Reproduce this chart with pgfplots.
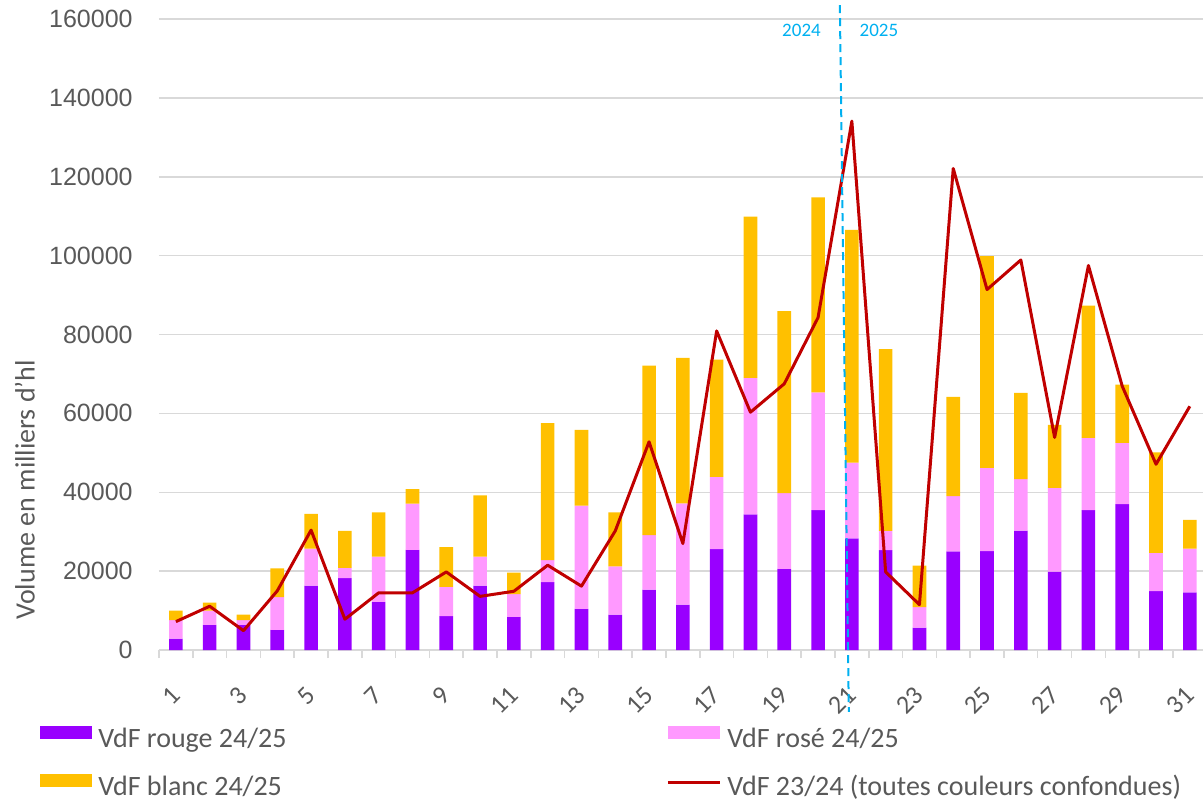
\documentclass[border=0pt]{standalone}
\usepackage{fontspec}
\setmainfont{Carlito}
\newfontfamily\arialfont{Liberation Sans}
\usepackage{pgfplots}
\usepackage{pgfplotstable}
\pgfplotsset{compat=1.18}

\definecolor{rouge}{HTML}{9900FF}
\definecolor{rose}{HTML}{FF99FF}
\definecolor{blanc}{HTML}{FFC000}
\definecolor{ligne}{HTML}{C00000}
\definecolor{grille}{HTML}{D9D9D9}
\definecolor{texte}{HTML}{595959}
\definecolor{annee}{HTML}{00B0F0}

\pgfplotsset{
    legbarre/.style={legend image code/.code={\fill[##1] (0pt,1pt) rectangle (26pt,7.5pt);}},
    legligne/.style={legend image code/.code={\draw[ligne, line width=1.5pt] (0pt,3pt) -- (26pt,3pt);}},
}

% jour, rouge, rosé, blanc (24/25, empilés) et total 23/24
\pgfplotstableread{
x rouge rose blanc total
1 2900 4700 2400 7200
2 6400 3600 2000 11100
3 6400 1200 1400 4900
4 5100 8300 7300 15000
5 16300 9400 8800 30400
6 18200 2600 9400 7800
7 12200 11500 11200 14500
8 25400 11700 3700 14500
9 8600 7400 10100 19800
10 16300 7400 15500 13600
11 8400 5800 5400 14900
12 17200 5600 34700 21500
13 10400 26200 19200 16200
14 9000 12200 13700 30200
15 15300 13800 43000 52800
16 11500 25700 36900 27000
17 25600 18300 29700 80900
18 34400 34600 40900 60300
19 20600 19200 46100 67500
20 35500 29800 49500 84300
21 28300 19200 59000 134100
22 25300 4900 46100 19800
23 5700 5200 10500 11500
24 25000 14000 25200 122100
25 25100 21100 53700 91400
26 30300 13000 21900 98900
27 19900 21200 16000 53900
28 35500 18300 33500 97500
29 37000 15500 14800 66900
30 14900 9700 25500 47100
31 14600 11100 7300 61800
}\volumes

\begin{document}
\begin{tikzpicture}
\begin{axis}[
    at={(0,0)}, anchor=south west,
    scale only axis, width=522pt, height=315.5pt,
    xmin=0.5, xmax=31.39, ymin=0, ymax=160000,
    clip=false,
    ybar stacked, bar width=6.8pt,
    reverse stacked plots=false,
    axis x line*=bottom, axis y line*=left,
    x axis line style={draw=grille, line width=0.75pt, -},
    y axis line style={draw=none},
    xtick={1,3,...,31},
    xticklabels={1,3,5,7,9,11,13,15,17,19,21,23,25,27,29,31},
    minor xtick={0.5,1.5,...,30.5},
    ytick={0,20000,40000,60000,80000,100000,120000,140000,160000},
    yticklabels={0,20000,40000,60000,80000,100000,120000,140000,160000},
    tick align=outside,
    major tick length=0pt, minor tick length=4pt,
    minor tick style={draw=grille, line width=0.75pt},
    major tick style={draw=none},
    ymajorgrids, grid style={draw=grille, line width=0.75pt},
    yticklabel style={font=\arialfont\fontsize{12.5}{14}\selectfont, text=texte, anchor=east, inner sep=0pt},
    yticklabel shift=13pt,
    xticklabel style={font=\fontsize{13}{15}\selectfont, text=texte, rotate=45, anchor=east, inner sep=0pt},
    xticklabel shift=20.5pt,
    ylabel={Volume en milliers d'hl},
    every axis y label/.style={at={(axis description cs:-0.1284,0.254)}, rotate=90, anchor=center,
        font=\fontsize{14}{16}\selectfont, text=texte},
    legend columns=2,
    legend cell align=left,
    legend style={at={(axis description cs:-0.114,-0.119)}, anchor=north west,
        draw=none, fill=none, inner sep=0pt, row sep=10pt,
        nodes={inner sep=0pt, text=texte, font=\fontsize{14}{16}\selectfont,
            text height=10pt, text depth=3pt},
        /tikz/every odd column/.append style={column sep=3pt}},
]
\addplot[fill=rouge, draw=none, legbarre] table[x=x, y=rouge] {\volumes};
\addlegendentry{\makebox[284pt][l]{VdF rouge 24/25}}
\addplot[fill=rose, draw=none, legbarre] table[x=x, y=rose] {\volumes};
\addlegendentry{VdF rosé 24/25}
\addplot[fill=blanc, draw=none, legbarre] table[x=x, y=blanc] {\volumes};
\addlegendentry{\makebox[284pt][l]{VdF blanc 24/25}}
\addplot[stack plots=false, sharp plot, draw=ligne, fill=none, line width=1.5pt,
    line join=round, mark=none, legligne] table[x=x, y=total] {\volumes};
\addlegendentry{VdF 23/24 (toutes couleurs confondues)}

% séparation 2024 / 2025
\draw[annee, line width=1pt, dash pattern=on 4pt off 2.5pt]
    (axis cs:20.645,163500) -- (axis cs:20.91,-15700);
\node[annee, font=\fontsize{9.5}{10}\selectfont] at (axis cs:19.51,157200) {2024};
\node[annee, font=\fontsize{9.5}{10}\selectfont] at (axis cs:21.80,157200) {2025};
\end{axis}
\pgfresetboundingbox
\path (-79.5pt,-75pt) rectangle (522pt,325pt);
\end{tikzpicture}
\end{document}
